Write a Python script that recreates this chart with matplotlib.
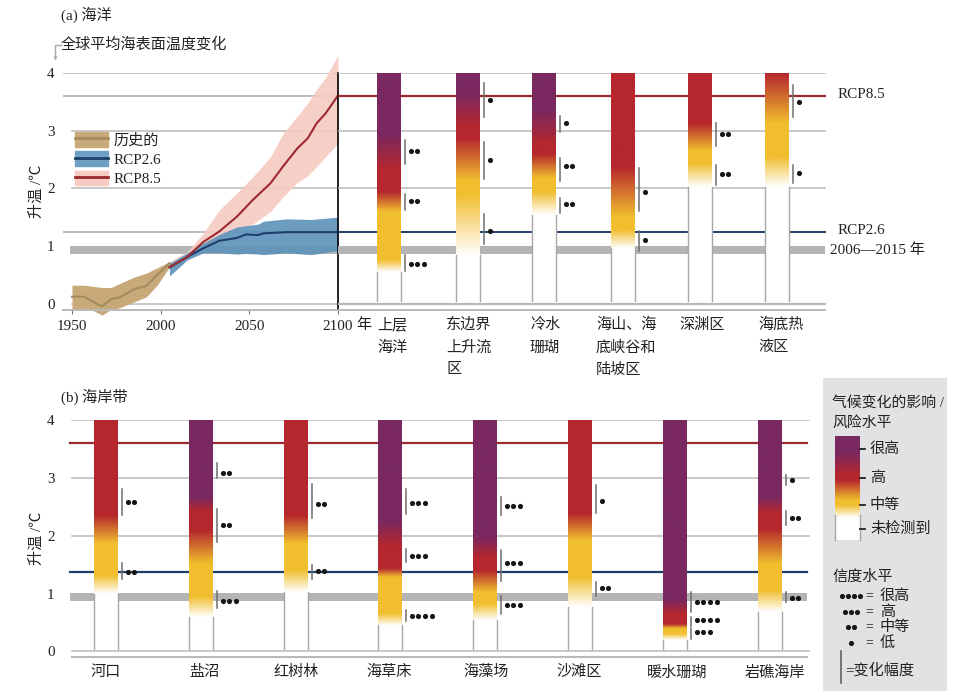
import numpy as np
import matplotlib.pyplot as plt
from matplotlib.colors import LinearSegmentedColormap
from matplotlib.patches import Patch
from matplotlib.lines import Line2D
from matplotlib.legend_handler import HandlerTuple

plt.rcParams['font.family'] = ['Liberation Serif', 'Noto Sans CJK SC']

# -----------------------------
# Данные: временные ряды
# -----------------------------
hist_years = [1950, 1957, 1962, 1967, 1972, 1977, 1985, 1992, 1998, 2005]
hist_mean = [0.12, 0.12, 0.03, -0.05, 0.08, 0.11, 0.25, 0.31, 0.50, 0.70]
hist_upper = [0.32, 0.32, 0.30, 0.28, 0.28, 0.35, 0.46, 0.53, 0.62, 0.73]
hist_lower = [-0.11, -0.11, -0.12, -0.20, -0.10, -0.07, 0.03, 0.12, 0.32, 0.64]

rcp26_years = [2005, 2015, 2024, 2033, 2043, 2048, 2055, 2058, 2071, 2085, 2100]
rcp26_mean = [0.63, 0.81, 0.96, 1.09, 1.14, 1.20, 1.19, 1.22, 1.24, 1.24, 1.24]
rcp26_upper = [0.70, 0.88, 1.05, 1.20, 1.33, 1.35, 1.38, 1.43, 1.47, 1.46, 1.50]
rcp26_lower = [0.48, 0.76, 0.88, 0.88, 0.86, 0.87, 0.86, 0.85, 0.88, 0.85, 0.92]

rcp85_years = [2005, 2015, 2024, 2033, 2043, 2052, 2062, 2069, 2077, 2083, 2088, 2093, 2100]
rcp85_mean = [0.63, 0.81, 1.07, 1.25, 1.51, 1.80, 2.09, 2.38, 2.69, 2.87, 3.13, 3.30, 3.61]
rcp85_upper = [0.73, 0.90, 1.22, 1.62, 1.92, 2.20, 2.55, 2.95, 3.25, 3.48, 3.72, 3.92, 4.31]
rcp85_lower = [0.58, 0.76, 0.93, 1.12, 1.28, 1.38, 1.60, 1.85, 2.10, 2.22, 2.38, 2.55, 2.78]

rcp85_level = 3.6
rcp26_level_ocean = 1.24
rcp26_level_coast = 1.37
band_ocean = (0.86, 1.0)
band_coast = (0.87, 1.01)

# -----------------------------
# Данные: столбцы риска
# -----------------------------
ocean_names = [["上层", "海洋"], ["东边界", "上升流", "区"], ["冷水", "珊瑚"],
               ["海山、海", "底峡谷和", "陆坡区"], ["深渊区"], ["海底热", "液区"]]
# температура: белый, жёлтый, конец жёлтого, красный, конец красного, фиолетовый
ocean_stops = [
    [0.55, 0.76, 1.60, 1.94, 2.32, 2.95],
    [0.84, 1.90, 2.14, 2.87, 3.07, 3.65],
    [1.54, 1.94, 2.17, 2.60, 2.78, 3.36],
    [0.96, 1.28, 1.50, 2.38, 5.00, 6.00],
    [2.03, 2.43, 2.66, 3.13, 5.00, 6.00],
    [2.03, 2.55, 3.13, 4.00, 5.00, 6.00],
]
# низ, верх, точки, число точек
ocean_conf = [
    [(2.42, 2.84, 2.64, 2), (1.62, 1.91, 1.78, 2), (0.57, 0.84, 0.68, 3)],
    [(3.23, 3.82, 3.53, 1), (2.16, 2.80, 2.49, 1), (1.04, 1.55, 1.26, 1)],
    [(2.98, 3.26, 3.14, 1), (2.13, 2.52, 2.39, 2), (1.57, 1.84, 1.72, 2)],
    [(1.60, 2.35, 1.94, 1), (0.92, 1.26, 1.10, 1)],
    [(2.73, 3.14, 2.95, 2), (2.06, 2.41, 2.24, 2)],
    [(3.23, 3.79, 3.50, 1), (2.09, 2.41, 2.27, 1)],
]

coast_names = ["河口", "盐沼", "红树林", "海草床", "海藻场", "沙滩区", "暖水珊瑚", "岩礁海岸"]
coast_stops = [
    [1.00, 1.32, 1.87, 2.36, 5.00, 6.00],
    [0.60, 0.95, 1.52, 2.10, 2.42, 2.67],
    [1.03, 1.41, 1.87, 2.36, 5.00, 6.00],
    [0.45, 0.66, 1.29, 1.44, 1.81, 2.27],
    [0.54, 0.83, 1.03, 1.41, 1.64, 1.98],
    [0.77, 1.29, 1.93, 2.39, 5.00, 6.00],
    [0.20, 0.31, 0.40, 0.48, 0.66, 0.89],
    [0.69, 1.06, 1.52, 2.13, 2.39, 2.67],
]
coast_conf = [
    [(2.36, 2.80, 2.58, 2), (1.25, 1.53, 1.38, 2)],
    [(2.99, 3.25, 3.08, 2), (1.90, 2.46, 2.19, 2), (0.76, 1.05, 0.88, 3)],
    [(2.31, 2.90, 2.55, 2), (1.26, 1.49, 1.39, 2)],
    [(2.37, 2.81, 2.57, 3), (1.54, 1.77, 1.65, 3), (0.53, 0.71, 0.61, 4)],
    [(2.36, 2.67, 2.51, 3), (1.22, 1.75, 1.53, 3), (0.64, 0.96, 0.80, 3)],
    [(2.40, 2.87, 2.60, 1), (0.96, 1.20, 1.10, 2)],
    [(0.69, 1.03, 0.86, 4), (0.44, 0.60, 0.55, 4), (0.22, 0.40, 0.33, 3)],
    [(2.88, 3.05, 2.97, 1), (2.18, 2.43, 2.30, 2), (0.85, 1.02, 0.92, 2)],
]

risk_labels = ["很高", "高", "中等", "未检测到"]
conf_labels = ["很高", "高", "中等", "低"]
conf_counts = [4, 3, 2, 1]

# расположение (пиксели исходной картинки)
W, H = 961, 697
ocean_left = [377, 456, 532, 611, 688, 765]
ocean_text_x = [377, 446, 530, 596, 679, 758]
coast_left = [94, 189, 284, 378, 473, 568, 663, 758]
coast_label_x = [105.7, 204, 296, 389, 486, 579, 677, 775]
bar_w = 24

GREY = "#b9b9b9"
BAND = "#b4b4b4"
RED_LINE = "#9c2a30"
BLUE_LINE = "#1f3f6b"
INK = "#222222"
FS = 10.9

risk_cmap = LinearSegmentedColormap.from_list(
    "risk", ["#ffffff", "#f1be2f", "#b5272d", "#7a2860"])

fig = plt.figure(figsize=(W / 100, H / 100), dpi=100)


def px_axes(x0, y0, x1, y1):
    # оси по пиксельному прямоугольнику
    a = fig.add_axes([x0 / W, 1 - y1 / H, (x1 - x0) / W, (y1 - y0) / H])
    a.patch.set_alpha(0)
    for s in a.spines.values():
        s.set_visible(False)
    return a


def draw_bars(a, lefts, stops, conf):
    temp = np.linspace(0.05, 4, 400)
    for left, st, cf in zip(lefts, stops, conf):
        level = np.interp(temp, st, [0, 1, 1, 2, 2, 3])
        a.imshow(level[:, None], cmap=risk_cmap, vmin=0, vmax=3, origin="lower",
                 extent=(left, left + bar_w, 0.05, 4), aspect="auto", zorder=3)
        # серые края только на белой части
        a.plot([left, left], [0.05, st[0]], color="#a8a8a8", lw=1, zorder=4)
        a.plot([left + bar_w, left + bar_w], [0.05, st[0]], color="#a8a8a8", lw=1, zorder=4)
        for lo, hi, dot, n in cf:
            x = left + bar_w + 4
            a.plot([x, x], [lo, hi], color="#6e6e6e", lw=1.1, zorder=5)
            a.plot(x + 5.5 + 6.7 * np.arange(n), [dot] * n, "o", color="#151515",
                   ms=3.7, mew=0, zorder=6)


# -----------------------------
# 1. (a) линии
# -----------------------------
ax_line = px_axes(63, 73, 338, 310)
ax_line.set_xlim(1950 - 9 / 1.773, 2100)
ax_line.set_ylim(-0.11, 4)

ax_line.plot([1945, 2100], [4, 4], color=GREY, lw=1.1, zorder=1)
for v in [3, 2, 0]:
    ax_line.plot([1950, 2100], [v, v], color=GREY, lw=1.1, zorder=1)
for v in [rcp85_level, rcp26_level_ocean]:
    ax_line.plot([1945, 2100], [v, v], color="#a9a9a9", lw=1.1, zorder=1)
ax_line.fill_between([1949, 2100], band_ocean[0], band_ocean[1], color=BAND, lw=0, zorder=1)

ax_line.fill_between(hist_years, hist_lower, hist_upper, color="#c8a97a", lw=0, zorder=2, clip_on=False)
ax_line.fill_between(rcp85_years, rcp85_lower, rcp85_upper, color="#f6cbc1", alpha=0.9, lw=0, zorder=2, clip_on=False)
ax_line.fill_between(rcp26_years, rcp26_lower, rcp26_upper, color="#5f94ba", alpha=0.92, lw=0, zorder=3, clip_on=False)
ax_line.plot(hist_years, hist_mean, color="#a38d5c", lw=1.5, zorder=4, clip_on=False)
ax_line.plot(rcp26_years, rcp26_mean, color=BLUE_LINE, lw=1.5, zorder=4)
ax_line.plot(rcp85_years, rcp85_mean, color=RED_LINE, lw=1.5, zorder=5)
ax_line.plot([2100, 2100], [-0.11, 4], color="black", lw=1.2, zorder=6, clip_on=False)

ax_line.spines["bottom"].set_visible(True)
ax_line.spines["bottom"].set_color(GREY)
ax_line.spines["bottom"].set_linewidth(1.4)
ax_line.set_xticks([1950, 2000, 2050, 2100])
ax_line.set_yticks([0, 1, 2, 3, 4])
ax_line.tick_params(axis="x", length=3, color="#777777", labelsize=FS, labelcolor=INK, pad=4)
ax_line.tick_params(axis="y", length=0, labelsize=FS, labelcolor=INK, pad=6)
ax_line.set_ylabel("升温 /℃", fontsize=FS, color=INK, labelpad=2)

handles = [
    (Patch(color="#c8a97a"), Line2D([], [], color="#a38d5c", lw=2)),
    (Patch(color="#6fa0c3"), Line2D([], [], color=BLUE_LINE, lw=2)),
    (Patch(color="#f6cbc1"), Line2D([], [], color=RED_LINE, lw=2)),
]
ax_line.legend(handles, ["历史的", "RCP2.6", "RCP8.5"], handler_map={tuple: HandlerTuple(ndivide=1)},
               loc="upper left", bbox_to_anchor=(75 / W, 1 - 132 / H), bbox_transform=fig.transFigure,
               frameon=False, fontsize=FS, borderpad=0, borderaxespad=0, handlelength=2.2,
               handleheight=1.1, handletextpad=0.35, labelspacing=0.26, labelcolor=INK)

# -----------------------------
# 2. (a) столбцы
# -----------------------------
ax_ocean = px_axes(338, 73, 830, 310)
for v in [4, 3, 2]:
    ax_ocean.plot([338, 825], [v, v], color=GREY, lw=1.1, zorder=1)
ax_ocean.plot([338, 825], [0, 0], color=GREY, lw=1.6, zorder=1)
ax_ocean.fill_between([338, 825], band_ocean[0], band_ocean[1], color=BAND, lw=0, zorder=1)
ax_ocean.plot([338, 825], [rcp85_level] * 2, color=RED_LINE, lw=1.6, zorder=2)
ax_ocean.plot([338, 825], [rcp26_level_ocean] * 2, color=BLUE_LINE, lw=1.4, zorder=2)
ax_ocean.plot([338, 825], [-0.11, -0.11], color=GREY, lw=1.4, zorder=1, clip_on=False)
draw_bars(ax_ocean, ocean_left, ocean_stops, ocean_conf)
ax_ocean.set_xlim(338, 830)
ax_ocean.set_ylim(-0.11, 4)
ax_ocean.set_xticks([])
ax_ocean.set_yticks([])

# -----------------------------
# 3. (b) столбцы
# -----------------------------
ax_coast = px_axes(63, 420, 815, 656.7)
for v in [4, 3, 2, 0]:
    ax_coast.plot([72, 809], [v, v], color=GREY, lw=1.1, zorder=1)
ax_coast.fill_between([70, 807], band_coast[0], band_coast[1], color=BAND, lw=0, zorder=1)
ax_coast.plot([70, 807], [rcp85_level] * 2, color=RED_LINE, lw=1.6, zorder=2)
ax_coast.plot([70, 807], [rcp26_level_coast] * 2, color=BLUE_LINE, lw=1.6, zorder=2)
ax_coast.plot([72, 807], [-0.09, -0.09], color=GREY, lw=1.5, zorder=1, clip_on=False)
draw_bars(ax_coast, coast_left, coast_stops, coast_conf)
ax_coast.set_xlim(63, 815)
ax_coast.set_ylim(-0.09, 4)
ax_coast.set_xticks(coast_label_x)
ax_coast.set_xticklabels(coast_names)
ax_coast.set_yticks([0, 1, 2, 3, 4])
ax_coast.tick_params(axis="x", length=0, labelsize=FS, labelcolor=INK, pad=6)
ax_coast.tick_params(axis="y", length=0, labelsize=FS, labelcolor=INK, pad=6)
ax_coast.set_ylabel("升温 /℃", fontsize=FS, color=INK, labelpad=2)

# -----------------------------
# 4. Подписи
# -----------------------------
fig.text(61 / W, 1 - 15 / H, "(a) 海洋", fontsize=FS, color=INK, va="center")
fig.text(61 / W, 1 - 44 / H, "全球平均海表面温度变化", fontsize=FS, color=INK, va="center")
fig.text(61 / W, 1 - 397 / H, "(b) 海岸带", fontsize=FS, color=INK, va="center")
fig.text(356 / W, 1 - 325 / H, "年", fontsize=FS, color=INK, va="center")
fig.text(838 / W, 1 - 94 / H, "RCP8.5", fontsize=FS, color=INK, va="center")
fig.text(838 / W, 1 - 231 / H, "RCP2.6", fontsize=FS, color=INK, va="center")
fig.text(830 / W, 1 - 250 / H, "2006—2015 年", fontsize=FS, color=INK, va="center")

for x, lines in zip(ocean_text_x, ocean_names):
    for i, line in enumerate(lines):
        fig.text(x / W, 1 - (325 + 22.5 * i) / H, line, fontsize=FS, color=INK, va="center")

# -----------------------------
# 5. Легенда справа (всё в пикселях)
# -----------------------------
ax_key = px_axes(0, 0, W, H)
ax_key.set_xlim(0, W)
ax_key.set_ylim(H, 0)
ax_key.set_xticks([])
ax_key.set_yticks([])
ax_key.fill_between([823, 947], 378, 691, color="#e1e2e4", lw=0, zorder=0)
ax_key.plot([61, 55, 55], [45, 45, 57], color="#a8a8a8", lw=1)
ax_key.plot([55], [58], "v", color="#a8a8a8", ms=3, mew=0)

ax_key.text(832, 403, "气候变化的影响 /", fontsize=FS - 0.2, color=INK, va="center")
ax_key.text(832, 423, "风险水平", fontsize=FS - 0.2, color=INK, va="center")

key_y = np.linspace(436, 540, 200)
key_level = np.interp(key_y, [452, 475, 480, 500, 505, 518], [3, 2, 2, 1, 1, 0])
ax_key.plot([835, 835], [515, 540], color="#a8a8a8", lw=1, zorder=3)
ax_key.plot([860, 860], [515, 540], color="#a8a8a8", lw=1, zorder=3)
ax_key.imshow(key_level[:, None], cmap=risk_cmap, vmin=0, vmax=3, origin="upper",
              extent=(835, 860, 540, 436), aspect="auto", zorder=2)
for y, label in zip([449, 478, 505, 529], risk_labels):
    ax_key.plot([860, 865], [y, y], color="#222222", lw=1.3, zorder=3)
    ax_key.text(870, y, label, fontsize=FS, color=INK, va="center",
                style="italic" if label != "未检测到" else "normal")

ax_key.text(832, 577, "信度水平", fontsize=FS, color=INK, va="center")
for y, label, n in zip([596, 612, 627, 643], conf_labels, conf_counts):
    xs = 851 - 5.8 * (n - 1) / 2 + 5.8 * np.arange(n)
    ax_key.plot(xs, [y] * n, "o", color="#151515", ms=3.7, mew=0, zorder=3)
    ax_key.text(869, y, "=", fontsize=FS - 1, color=INK, va="center", ha="center")
    ax_key.text(880, y, label, fontsize=FS, color=INK, va="center", style="italic")
ax_key.plot([841, 841], [651, 683], color="#555555", lw=1.1)
ax_key.text(845, 670, "=变化幅度", fontsize=FS, color=INK, va="center")
ax_key.set_xlim(0, W)
ax_key.set_ylim(H, 0)

fig.savefig("out.png", dpi=100)
